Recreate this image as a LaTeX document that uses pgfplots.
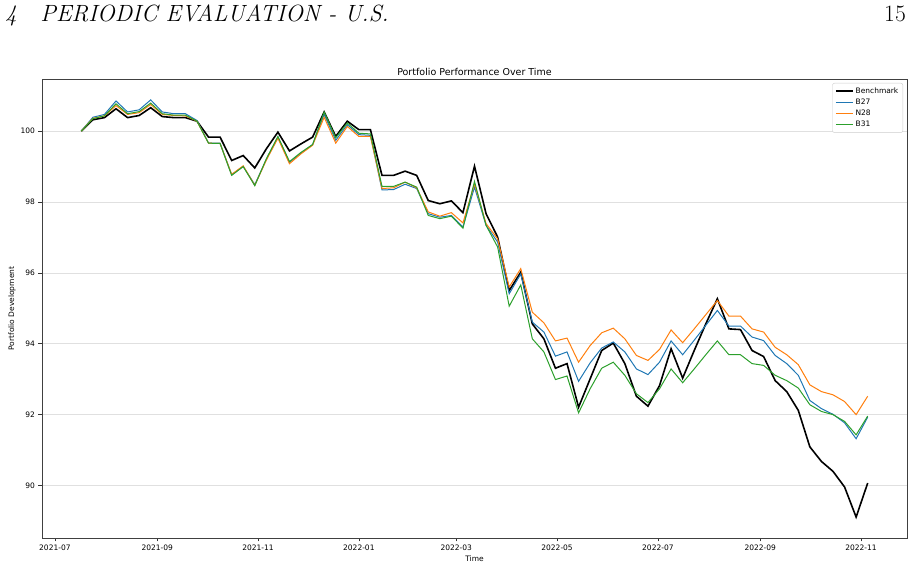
\documentclass[border=0pt]{standalone}
\usepackage{fontspec}
\usepackage{pgfplots}
\usepackage{pgfplotstable}
\pgfplotsset{compat=1.18}
\newfontfamily\mpl{DejaVu Sans}

\definecolor{tabblue}{HTML}{1F77B4}
\definecolor{taborange}{HTML}{FF7F0E}
\definecolor{tabgreen}{HTML}{2CA02C}

% day = days since 2021-07-01; weekly portfolio index values
\pgfplotstableread{
day bench b27 n28 b31
16  100.00 100.00 100.00 100.00
23  100.32 100.39 100.36 100.35
30  100.38 100.47 100.43 100.43
37  100.63 100.85 100.72 100.77
44  100.38 100.54 100.47 100.49
51  100.44 100.60 100.52 100.55
58  100.66 100.88 100.75 100.79
65  100.41 100.54 100.47 100.49
72  100.38 100.49 100.44 100.45
79  100.38 100.49 100.43 100.45
86  100.28 100.30 100.28 100.28
93  99.83  99.66  99.66  99.66
100 99.83  99.66  99.65  99.65
107 99.17  98.77  98.78  98.75
114 99.31  99.00  99.02  99.00
121 98.96  98.49  98.47  98.46
128 99.50  99.20  99.18  99.22
135 99.97  99.83  99.80  99.85
142 99.44  99.12  99.08  99.14
149 99.64  99.38  99.36  99.40
156 99.83  99.62  99.60  99.62
163 100.54 100.47 100.39 100.54
170 99.85  99.74  99.66  99.81
177 100.28 100.18 100.13 100.23
184 100.04 99.90  99.85  99.94
191 100.04 99.88  99.85  99.92
198 98.75  98.34  98.38  98.44
205 98.75  98.35  98.40  98.44
212 98.87  98.50  98.56  98.56
219 98.75  98.38  98.40  98.42
226 98.04  97.67  97.72  97.62
233 97.95  97.57  97.60  97.53
240 98.03  97.62  97.70  97.60
247 97.70  97.29  97.41  97.26
254 99.01  98.42  98.51  98.58
261 97.67  97.34  97.39  97.34
268 97.01  96.87  96.96  96.73
275 95.50  95.41  95.60  95.06
282 96.02  95.97  96.12  95.66
289 94.56  94.61  94.89  94.14
296 94.14  94.33  94.59  93.77
303 93.31  93.65  94.08  92.99
310 93.44  93.77  94.16  93.09
317 92.21  92.94  93.48  92.05
324 93.01  93.46  93.95  92.73
331 93.81  93.88  94.31  93.31
338 94.02  94.05  94.44  93.48
345 93.44  93.77  94.14  93.11
352 92.52  93.29  93.67  92.59
359 92.24  93.13  93.53  92.34
366 92.82  93.48  93.84  92.73
373 93.86  94.08  94.39  93.29
380 93.03  93.69  94.03  92.90
387 93.81  94.10  94.42  93.29
394 94.56  94.52  94.82  93.69
401 95.27  94.94  95.22  94.08
408 94.42  94.50  94.78  93.69
415 94.40  94.50  94.78  93.69
422 93.81  94.19  94.42  93.44
429 93.64  94.09  94.33  93.39
436 92.96  93.67  93.90  93.11
443 92.65  93.44  93.69  92.96
450 92.12  93.11  93.41  92.75
457 91.09  92.40  92.84  92.28
464 90.68  92.17  92.65  92.09
471 90.40  92.01  92.56  92.00
478 89.96  91.77  92.37  91.81
485 89.11  91.32  92.00  91.43
492 90.07  91.93  92.52  91.96
}\perf

\begin{document}
\begin{tikzpicture}
\useasboundingbox (0pt,0pt) rectangle (918pt,569pt);
% running head of the report page
\node[anchor=base west, inner sep=0pt, font=\fontsize{23.5}{28}\selectfont\itshape] at (5pt,547pt) {4\quad PERIODIC EVALUATION - U.S.};
\node[anchor=base east, inner sep=0pt, font=\fontsize{23.5}{28}\selectfont] at (906pt,547pt) {15};

\begin{axis}[
  at={(42pt,31pt)}, anchor=south west,
  width=865pt, height=459pt, scale only axis,
  xmin=-7.8, xmax=515.8, ymin=88.52, ymax=101.47,
  xtick={0,62,123,184,243,304,365,427,488},
  xticklabels={2021-07,2021-09,2021-11,2022-01,2022-03,2022-05,2022-07,2022-09,2022-11},
  ytick={90,92,94,96,98,100},
  /pgf/number format/assume math mode=true,
  tick label style={font=\mpl\fontsize{7.5}{9}\selectfont},
  xtick pos=bottom, ytick pos=left, tick align=outside,
  major tick length=3.5pt,
  every tick/.style={black!80, line width=0.6pt},
  axis line style={black!75, line width=0.8pt},
  ymajorgrids, grid style={black!12, line width=0.6pt},
  title={Portfolio Performance Over Time},
  title style={font=\mpl\fontsize{9.5}{11}\selectfont, at={(0.5,1)}, anchor=base, yshift=-2.5pt},
  xlabel={Time}, ylabel={Portfolio Development},
  label style={font=\mpl\fontsize{7.5}{9}\selectfont},
  xlabel style={yshift=2pt},
  ylabel style={yshift=-2pt},
  legend style={at={(0.9954,0.9913)}, anchor=north east, draw=black!20, rounded corners=2pt,
    fill=white, font=\mpl\fontsize{7.5}{9}\selectfont, inner sep=2.5pt,
    cells={anchor=west}},
  legend image code/.code={\draw[#1] (0pt,0pt) -- (17pt,0pt);},
  legend cell align=left,
]
\addplot[black, line width=1.6pt] table[x=day, y=bench] {\perf};
\addlegendentry{Benchmark}
\addplot[tabblue, line width=1.0pt] table[x=day, y=b27] {\perf};
\addlegendentry{B27}
\addplot[taborange, line width=1.0pt] table[x=day, y=n28] {\perf};
\addlegendentry{N28}
\addplot[tabgreen, line width=1.0pt] table[x=day, y=b31] {\perf};
\addlegendentry{B31}
\end{axis}
\end{tikzpicture}
\end{document}
